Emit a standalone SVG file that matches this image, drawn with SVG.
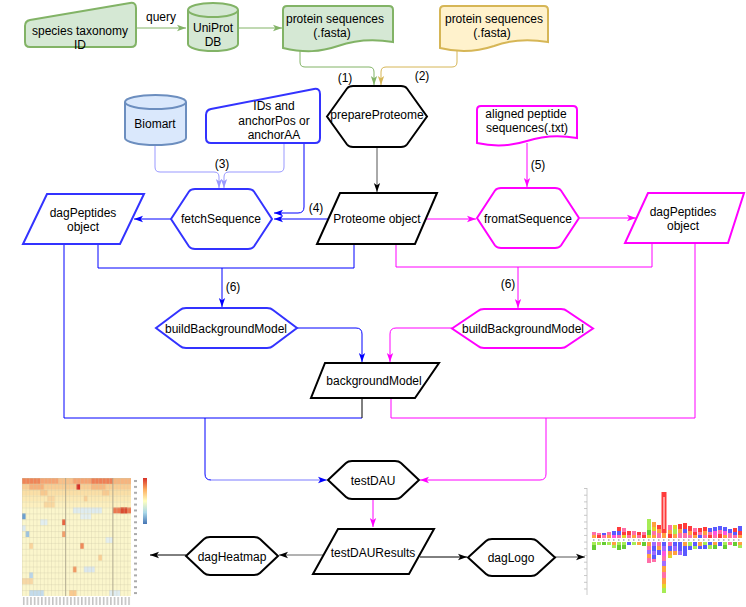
<svg xmlns="http://www.w3.org/2000/svg" width="746" height="607" viewBox="0 0 746 607">
<style>
.t{font-family:"Liberation Sans",Arial,sans-serif;font-size:12px;fill:#000;text-anchor:middle}
.blk{fill:#fff;stroke:#000;stroke-width:2}
.blu{fill:#fff;stroke:#3333ff;stroke-width:2}
.mag{fill:#fff;stroke:#ff00ff;stroke-width:2}
.grn{fill:#d5e8d4;stroke:#82b366;stroke-width:2}
.yel{fill:#fff2cc;stroke:#d6b656;stroke-width:2}
.lbl{fill:#dae8fc;stroke:#6c8ebf;stroke-width:2}
.c{fill:none;stroke-width:1}
.lP{fill:#ff6fa8}.lR{fill:#ff3b3b}.lO{fill:#ffa040}.lY{fill:#e3d42a}.lG{fill:#66cc33}.lL{fill:#a6ec55}.lB{fill:#5a5aff}.lV{fill:#a06cff}.lM{fill:#ff55dd}
</style>
<defs>
<marker id="mG" viewBox="0 0 10 10" refX="10" refY="5" markerWidth="9" markerHeight="9" markerUnits="userSpaceOnUse" orient="auto"><path d="M0,1.5 L10,5 L0,8.5 L2.5,5 Z" fill="#82b366"/></marker>
<marker id="mY" viewBox="0 0 10 10" refX="10" refY="5" markerWidth="9" markerHeight="9" markerUnits="userSpaceOnUse" orient="auto"><path d="M0,1.5 L10,5 L0,8.5 L2.5,5 Z" fill="#d6b656"/></marker>
<marker id="mB" viewBox="0 0 10 10" refX="10" refY="5" markerWidth="9" markerHeight="9" markerUnits="userSpaceOnUse" orient="auto"><path d="M0,1.5 L10,5 L0,8.5 L2.5,5 Z" fill="#0000ff"/></marker>
<marker id="mL" viewBox="0 0 10 10" refX="10" refY="5" markerWidth="9" markerHeight="9" markerUnits="userSpaceOnUse" orient="auto"><path d="M0,1.5 L10,5 L0,8.5 L2.5,5 Z" fill="#9999ff"/></marker>
<marker id="mM" viewBox="0 0 10 10" refX="10" refY="5" markerWidth="9" markerHeight="9" markerUnits="userSpaceOnUse" orient="auto"><path d="M0,1.5 L10,5 L0,8.5 L2.5,5 Z" fill="#ff00ff"/></marker>
<marker id="mK" viewBox="0 0 10 10" refX="10" refY="5" markerWidth="9" markerHeight="9" markerUnits="userSpaceOnUse" orient="auto"><path d="M0,1.5 L10,5 L0,8.5 L2.5,5 Z" fill="#000"/></marker>
<pattern id="hg" x="22" y="478" width="3.633" height="5.9" patternUnits="userSpaceOnUse"><path d="M0,0 V5.9 M0,0 H3.633" stroke="#cdc7a6" stroke-width="0.6" fill="none"/></pattern>
<pattern id="rl" x="133" y="478" width="6" height="5.9" patternUnits="userSpaceOnUse"><rect x="1" y="2" width="3" height="2" fill="#aaa"/></pattern>
<pattern id="cl" x="22" y="597" width="3.633" height="9" patternUnits="userSpaceOnUse"><rect x="1" y="0" width="1.4" height="8" fill="#bbb"/></pattern>
<pattern id="lt" x="584" y="488" width="3" height="6.7" patternUnits="userSpaceOnUse"><rect x="0" y="0" width="3" height="0.8" fill="#bbb"/></pattern>
<pattern id="lp" x="592" y="539" width="5" height="2" patternUnits="userSpaceOnUse"><rect x="1" y="0" width="1.5" height="2" fill="#bbb"/></pattern>
<linearGradient id="cb" x1="0" y1="0" x2="0" y2="1"><stop offset="0" stop-color="#d73027"/><stop offset="0.25" stop-color="#fdae61"/><stop offset="0.5" stop-color="#ffffbf"/><stop offset="0.75" stop-color="#abd9e9"/><stop offset="1" stop-color="#4575b4"/></linearGradient>
</defs>
<rect width="746" height="607" fill="#fff"/>

<g id="connectors">
<path class="c" stroke="#82b366" d="M136,28 L186,28" marker-end="url(#mG)"/>
<path class="c" stroke="#82b366" d="M238,28 L282,28" marker-end="url(#mG)"/>
<path class="c" stroke="#82b366" d="M300,50 L300,62 Q300,67 305,67 L369,67 Q374,67 374,72 L374,85" marker-end="url(#mG)"/>
<path class="c" stroke="#d6b656" d="M457,50 L457,62 Q457,67 452,67 L386,67 Q381,67 381,72 L381,85" marker-end="url(#mY)"/>
<path class="c" stroke="#555" d="M377,147 L377,192" marker-end="url(#mK)"/>
<path class="c" stroke="#9999ff" d="M155,145 L155,167 Q155,172 160,172 L214,172 Q219,172 219,177 L219,188" marker-end="url(#mL)"/>
<path class="c" stroke="#9999ff" d="M284,143 L284,167 Q284,172 279,172 L229,172 Q224,172 224,177 L224,188" marker-end="url(#mL)"/>
<path class="c" stroke="#0000ff" d="M304,143 L304,207 Q304,213 298,213 L274,213" marker-end="url(#mB)"/>
<path class="c" stroke="#0000ff" d="M328,219 L274,219" marker-end="url(#mB)"/>
<path class="c" stroke="#0000ff" d="M171,219 L134,219" marker-end="url(#mB)"/>
<path class="c" stroke="#ff00ff" d="M426,219 L476,219" marker-end="url(#mM)"/>
<path class="c" stroke="#ff00ff" d="M527,143 L527,187" marker-end="url(#mM)"/>
<path class="c" stroke="#ff00ff" d="M580,218 L636,218" marker-end="url(#mM)"/>
<path class="c" stroke="#0000ff" d="M98,244 L98,268 L354,268 L354,244"/>
<path class="c" stroke="#0000ff" d="M222,268 L222,307" marker-end="url(#mB)"/>
<path class="c" stroke="#ff00ff" d="M396,244 L396,267 L652,267 L652,243"/>
<path class="c" stroke="#ff00ff" d="M518,267 L518,308" marker-end="url(#mM)"/>
<path class="c" stroke="#0000ff" d="M297,328 L356,328 Q362,328 362,334 L362,362" marker-end="url(#mB)"/>
<path class="c" stroke="#ff00ff" d="M452,328 L396,328 Q390,328 390,334 L390,362" marker-end="url(#mM)"/>
<path class="c" stroke="#0000ff" d="M64,244 L64,418 L362,418"/>
<path class="c" stroke="#000" d="M362,398 L362,418"/>
<path class="c" stroke="#0000ff" d="M205,418 L205,474 Q205,480 211,480"/>
<path class="c" stroke="#7b7bff" d="M211,480 L327,480" marker-end="url(#mB)"/>
<path class="c" stroke="#ff00ff" d="M695,243 L695,418 L391,418 L391,398"/>
<path class="c" stroke="#ff00ff" d="M546,418 L546,474 Q546,480 540,480 L420,480" marker-end="url(#mM)"/>
<path class="c" stroke="#ff00ff" d="M373,499 L373,527" marker-end="url(#mM)"/>
<path class="c" stroke="#666" d="M323,555 L279,555" marker-end="url(#mK)"/>
<path class="c" stroke="#000" d="M186,555 L150,555" marker-end="url(#mK)"/>
<path class="c" stroke="#000" d="M420,557 L467,557" marker-end="url(#mK)"/>
<path class="c" stroke="#555" d="M555,557 L585,557" marker-end="url(#mK)"/>
<text class="t" x="161" y="21">query</text>
<text class="t" x="345" y="82">(1)</text>
<text class="t" x="422" y="80">(2)</text>
<text class="t" x="222" y="168">(3)</text>
<text class="t" x="316" y="212">(4)</text>
<text class="t" x="538" y="169">(5)</text>
<text class="t" x="233" y="291">(6)</text>
<text class="t" x="508" y="288">(6)</text>
</g>

<g id="species">
<path class="grn" d="M25,26 Q25,21 30,20 L130,3 Q136,2 136,8 L136,42 Q136,47 131,47 L30,47 Q25,47 25,42 Z"/>
<text class="t" x="80" y="35">species taxonomy</text>
<text class="t" x="80" y="49">ID</text>
</g>
<g id="uniprot">
<path class="grn" d="M188,10 A25,7 0 0 1 238,10 L238,44 A25,7 0 0 1 188,44 Z"/>
<path fill="none" stroke="#82b366" stroke-width="2" d="M188,10 A25,7 0 0 0 238,10"/>
<text class="t" x="213" y="32">UniProt</text>
<text class="t" x="213" y="46">DB</text>
</g>
<g id="fasta1">
<path class="grn" d="M283,10 Q283,6 287,6 L389,6 Q393,6 393,10 L393,42 C375,39 355,40 338,46 C320,52 305,53 283,48 Z"/>
<text class="t" x="335" y="23">protein sequences</text>
<text class="t" x="332" y="37">(.fasta)</text>
</g>
<g id="fasta2">
<path class="yel" d="M440,10 Q440,6 444,6 L544,6 Q548,6 548,10 L548,42 C530,39 510,40 494,46 C476,52 460,53 440,48 Z"/>
<text class="t" x="494" y="23">protein sequences</text>
<text class="t" x="492" y="37">(.fasta)</text>
</g>
<g id="prepareProteome">
<path class="blk" d="M327,116.5 L347,88.5 Q349,86 353,86 L401,86 Q405,86 407,88.5 L427,116.5 L407,144.5 Q405,147 401,147 L353,147 Q349,147 347,144.5 Z"/>
<text class="t" x="377" y="119">prepareProteome</text>
</g>
<g id="biomart">
<path class="lbl" d="M125,102 A30.5,7 0 0 1 186,102 L186,138 A30.5,7 0 0 1 125,138 Z"/>
<path fill="none" stroke="#6c8ebf" stroke-width="2" d="M125,102 A30.5,7 0 0 0 186,102"/>
<text class="t" x="155" y="128">Biomart</text>
</g>
<g id="ids">
<path class="blu" d="M206,115 Q206,110 211,109 L314,89 Q320,88 320,94 L320,138 Q320,143 315,143 L211,143 Q206,143 206,138 Z"/>
<text class="t" x="274" y="110">IDs and</text>
<text class="t" x="274" y="125">anchorPos or</text>
<text class="t" x="274" y="139">anchorAA</text>
</g>
<g id="aligned">
<path class="mag" d="M477,110 Q477,106 481,106 L573,106 Q577,106 577,110 L577,138 C560,135 542,136 527,141 C511,146 495,147 477,143 Z"/>
<text class="t" x="526" y="118">aligned peptide</text>
<text class="t" x="527" y="132">sequences(.txt)</text>
</g>
<g id="dagPeptidesBlue">
<path class="blu" d="M47,194 L144,194 L120,244 L23,244 Z"/>
<text class="t" x="83" y="217">dagPeptides</text>
<text class="t" x="83" y="231">object</text>
</g>
<g id="fetchSequence">
<path class="blu" d="M171,219 L189,191.5 Q191,189 195,189 L248,189 Q252,189 254,191.5 L272,219 L254,246.5 Q252,249 248,249 L195,249 Q191,249 189,246.5 Z"/>
<text class="t" x="221" y="223">fetchSequence</text>
</g>
<g id="proteome">
<path class="blk" d="M340,193 L437,193 L415,244 L317,244 Z"/>
<text class="t" x="377" y="223">Proteome object</text>
</g>
<g id="fromatSequence">
<path class="mag" d="M477,218 L495,190.5 Q497,188 501,188 L555,188 Q559,188 561,190.5 L579,218 L561,245.5 Q559,248 555,248 L501,248 Q497,248 495,245.5 Z"/>
<text class="t" x="528" y="223">fromatSequence</text>
</g>
<g id="dagPeptidesMag">
<path class="mag" d="M648,193 L744,193 L728,243 L625,243 Z"/>
<text class="t" x="683" y="216">dagPeptides</text>
<text class="t" x="683" y="230">object</text>
</g>
<g id="bbmBlue">
<path class="blu" stroke="#0000ff" d="M156,328 L180,310 Q182,308 186,308 L267,308 Q271,308 273,310 L297,328 L273,346 Q271,348 267,348 L186,348 Q182,348 180,346 Z"/>
<text class="t" x="226" y="333">buildBackgroundModel</text>
</g>
<g id="bbmMag">
<path class="mag" d="M452,328.5 L478,311 Q480,309 484,309 L561,309 Q565,309 567,311 L593,328.5 L567,346 Q565,348 561,348 L484,348 Q480,348 478,346 Z"/>
<text class="t" x="523" y="333">buildBackgroundModel</text>
</g>
<g id="backgroundModel">
<path class="blk" d="M325,363 L439,363 L415,398 L311,398 Z"/>
<text class="t" x="374" y="385">backgroundModel</text>
</g>
<g id="testDAU">
<path class="blk" d="M328,480 L346,463 Q348,461 352,461 L395,461 Q399,461 401,463 L419,480 L401,497 Q399,499 395,499 L352,499 Q348,499 346,497 Z"/>
<text class="t" x="373" y="485">testDAU</text>
</g>
<g id="testDAUResults">
<path class="blk" d="M338,529 L434,529 L409,574 L313,574 Z"/>
<text class="t" x="373" y="557">testDAUResults</text>
</g>
<g id="dagHeatmap">
<path class="blk" d="M186,556 L204,539 Q206,537 210,537 L254,537 Q258,537 260,539 L278,556 L260,573 Q258,575 254,575 L210,575 Q206,575 204,573 Z"/>
<text class="t" x="232" y="561">dagHeatmap</text>
</g>
<g id="dagLogo">
<path class="blk" d="M468,557.5 L486,541 Q488,539 492,539 L531,539 Q535,539 537,541 L555,557.5 L537,574 Q535,576 531,576 L492,576 Q488,576 486,574 Z"/>
<text class="t" x="511" y="562">dagLogo</text>
</g>

<g id="heatmap">
<rect x="22" y="478" width="109" height="118" fill="#fbf6cc"/>
<rect x="22" y="478" width="109" height="5.9" fill="#f5a372"/>
<rect x="22" y="478" width="18.2" height="5.9" fill="#ef8457"/>
<rect x="91" y="478" width="22" height="5.9" fill="#ee7f55"/>
<rect x="58.3" y="478" width="14.5" height="5.9" fill="#f8c08a"/>
<rect x="112.8" y="478" width="18.2" height="5.9" fill="#f6b47e"/>
<rect x="22" y="483.9" width="109" height="5.9" fill="#f9cd94"/>
<rect x="29.27" y="483.9" width="14.5" height="5.9" fill="#f6b07a"/>
<rect x="76.5" y="483.9" width="3.63" height="5.9" fill="#d73027"/>
<rect x="91" y="483.9" width="14.5" height="5.9" fill="#f7b880"/>
<rect x="22" y="489.8" width="109" height="5.9" fill="#fbdfa6"/>
<rect x="40.17" y="489.8" width="7.3" height="5.9" fill="#f8c88e"/>
<rect x="101.9" y="489.8" width="7.3" height="5.9" fill="#f9ca90"/>
<rect x="22" y="495.7" width="109" height="5.9" fill="#fce9b4"/>
<rect x="47.4" y="495.7" width="7.3" height="5.9" fill="#fad6a0"/>
<rect x="83.8" y="495.7" width="3.63" height="5.9" fill="#f9cf96"/>
<rect x="22" y="501.6" width="109" height="5.9" fill="#fdf0bf"/>
<rect x="43.8" y="501.6" width="10.9" height="5.9" fill="#fad8a0"/>
<rect x="72.9" y="507.5" width="29" height="5.9" fill="#dfecef"/>
<rect x="112.83" y="507.5" width="18.17" height="5.9" fill="#ec7850"/>
<rect x="120.1" y="507.5" width="7.27" height="5.9" fill="#da4b30"/>
<rect x="22" y="513.4" width="3.63" height="5.9" fill="#6b9fd0"/>
<rect x="80.13" y="513.4" width="10.9" height="5.9" fill="#e4eff0"/>
<rect x="61.97" y="519.3" width="3.63" height="5.9" fill="#e96440"/>
<rect x="40.17" y="519.3" width="7.3" height="5.9" fill="#e2eef0"/>
<rect x="22" y="525.2" width="3.63" height="5.9" fill="#dce9ef"/>
<rect x="25.63" y="531.1" width="3.63" height="5.9" fill="#9cc3e0"/>
<rect x="61.97" y="531.1" width="3.63" height="5.9" fill="#f3a06c"/>
<rect x="105.6" y="537" width="7.3" height="5.9" fill="#e4eff0"/>
<rect x="80.13" y="542.9" width="3.63" height="5.9" fill="#ef8a5a"/>
<rect x="29.27" y="542.9" width="3.63" height="5.9" fill="#fad49c"/>
<rect x="98.3" y="554.7" width="3.63" height="5.9" fill="#f9cf96"/>
<rect x="72.87" y="566.5" width="3.63" height="5.9" fill="#f29a64"/>
<rect x="83.8" y="566.5" width="10.9" height="5.9" fill="#dbe8ef"/>
<rect x="29.27" y="572.4" width="3.63" height="5.9" fill="#b9d5ea"/>
<rect x="22" y="578.3" width="10.9" height="5.9" fill="#f8d8a6"/>
<rect x="29.27" y="590.1" width="14.5" height="5.9" fill="#c3dbec"/>
<rect x="69.2" y="590.1" width="7.3" height="5.9" fill="#f9c98e"/>
<rect x="109.2" y="590.1" width="10.9" height="5.9" fill="#dfecf1"/>
<rect x="22" y="478" width="109" height="118" fill="url(#hg)"/>
<path d="M65.6,478 V596 M112.8,478 V596" stroke="#a8a28a" stroke-width="0.8"/>
<rect x="133" y="478" width="6" height="118" fill="url(#rl)"/>
<rect x="22" y="597" width="109" height="9" fill="url(#cl)"/>
<rect x="143" y="478" width="4" height="46" fill="url(#cb)"/>
</g>

<g id="logo">
<line x1="587" y1="488" x2="587" y2="595" stroke="#ccc" stroke-width="1"/>
<rect x="584" y="488" width="3" height="107" fill="url(#lt)"/>
<rect x="590" y="539" width="152" height="2" fill="url(#lp)"/>
<rect class="lP" x="592" y="532" width="4" height="3"/><rect class="lO" x="592" y="535" width="4" height="3"/><rect class="lL" x="592" y="542" width="4" height="3"/><rect class="lG" x="592" y="545" width="4" height="5"/>
<rect class="lP" x="597" y="533" width="4" height="2"/><rect class="lR" x="597" y="535" width="4" height="3"/><rect class="lL" x="597" y="542" width="4" height="3"/>
<rect class="lB" x="602" y="533" width="4" height="2"/><rect class="lP" x="602" y="535" width="4" height="3"/><rect class="lG" x="602" y="542" width="4" height="3"/>
<rect class="lP" x="607" y="532" width="4" height="3"/><rect class="lO" x="607" y="535" width="4" height="3"/><rect class="lL" x="607" y="542" width="4" height="3"/>
<rect class="lB" x="612" y="531" width="4" height="4"/><rect class="lM" x="612" y="535" width="4" height="3"/><rect class="lO" x="612" y="542" width="4" height="3"/><rect class="lL" x="612" y="545" width="4" height="3"/>
<rect class="lR" x="617" y="527" width="4" height="4"/><rect class="lB" x="617" y="531" width="4" height="4"/><rect class="lP" x="617" y="535" width="4" height="3"/><rect class="lL" x="617" y="542" width="4" height="3"/><rect class="lG" x="617" y="545" width="4" height="5"/>
<rect class="lP" x="622" y="528" width="4" height="4"/><rect class="lR" x="622" y="532" width="4" height="3"/><rect class="lY" x="622" y="535" width="4" height="3"/><rect class="lL" x="622" y="542" width="4" height="3"/><rect class="lG" x="622" y="545" width="4" height="4"/>
<rect class="lR" x="627" y="531" width="4" height="4"/><rect class="lP" x="627" y="535" width="4" height="3"/><rect class="lB" x="627" y="542" width="4" height="3"/>
<rect class="lP" x="632" y="531" width="4" height="4"/><rect class="lO" x="632" y="535" width="4" height="3"/><rect class="lL" x="632" y="542" width="4" height="3"/>
<rect class="lR" x="637" y="532" width="4" height="3"/><rect class="lP" x="637" y="535" width="4" height="3"/><rect class="lO" x="637" y="542" width="4" height="3"/>
<rect class="lP" x="642" y="532" width="4" height="3"/><rect class="lR" x="642" y="535" width="4" height="3"/><rect class="lG" x="642" y="542" width="4" height="4"/>
<rect class="lL" x="647" y="519" width="4" height="11"/><rect class="lG" x="647" y="530" width="4" height="5"/><rect class="lY" x="647" y="535" width="4" height="3"/><rect class="lO" x="647" y="542" width="4" height="4"/><rect class="lP" x="647" y="546" width="4" height="4"/><rect class="lV" x="647" y="550" width="4" height="4"/><rect class="lO" x="647" y="554" width="4" height="4"/><rect class="lP" x="647" y="558" width="4" height="5"/>
<rect class="lO" x="652" y="522" width="4" height="5"/><rect class="lY" x="652" y="527" width="4" height="4"/><rect class="lP" x="652" y="531" width="4" height="4"/><rect class="lO" x="652" y="535" width="4" height="3"/><rect class="lV" x="652" y="542" width="4" height="4"/><rect class="lB" x="652" y="546" width="4" height="5"/><rect class="lV" x="652" y="551" width="4" height="4"/><rect class="lB" x="652" y="555" width="4" height="4"/><rect class="lP" x="652" y="559" width="4" height="3"/>
<rect class="lR" x="657" y="525" width="4" height="4"/><rect class="lO" x="657" y="529" width="4" height="4"/><rect class="lP" x="657" y="533" width="4" height="5"/><rect class="lP" x="657" y="542" width="4" height="4"/><rect class="lO" x="657" y="546" width="4" height="4"/><rect class="lB" x="657" y="550" width="4" height="5"/>
<rect class="lR" x="661.5" y="492" width="5" height="41"/><rect fill="#fff" x="663.5" y="497" width="1" height="32"/><rect class="lO" x="662" y="533" width="4" height="5"/>
<rect class="lB" x="662" y="542" width="4" height="4"/><rect class="lV" x="662" y="546" width="4" height="5"/><rect class="lM" x="662" y="551" width="4" height="5"/><rect class="lP" x="662" y="556" width="4" height="5"/><rect class="lV" x="662" y="561" width="4" height="5"/><rect class="lO" x="662" y="566" width="4" height="6"/><rect class="lP" x="662" y="572" width="4" height="6"/><rect class="lO" x="662" y="578" width="4" height="6"/><rect class="lY" x="662" y="584" width="4" height="4"/><rect class="lL" x="662" y="588" width="4" height="5"/>
<rect class="lP" x="668" y="525" width="4" height="5"/><rect class="lO" x="668" y="530" width="4" height="4"/><rect class="lR" x="668" y="534" width="4" height="4"/><rect class="lP" x="668" y="542" width="4" height="4"/><rect class="lB" x="668" y="546" width="4" height="5"/><rect class="lO" x="668" y="551" width="4" height="4"/><rect class="lY" x="668" y="555" width="4" height="3"/>
<rect class="lY" x="673" y="525" width="4" height="4"/><rect class="lL" x="673" y="529" width="4" height="5"/><rect class="lO" x="673" y="534" width="4" height="4"/><rect class="lB" x="673" y="542" width="4" height="4"/><rect class="lV" x="673" y="546" width="4" height="5"/><rect class="lO" x="673" y="551" width="4" height="4"/>
<rect class="lR" x="678" y="524" width="4" height="5"/><rect class="lO" x="678" y="529" width="4" height="4"/><rect class="lP" x="678" y="533" width="4" height="5"/><rect class="lB" x="678" y="542" width="4" height="4"/><rect class="lB" x="678" y="546" width="4" height="5"/><rect class="lV" x="678" y="551" width="4" height="4"/>
<rect class="lR" x="683" y="523" width="4" height="6"/><rect class="lB" x="683" y="529" width="4" height="4"/><rect class="lP" x="683" y="533" width="4" height="5"/><rect class="lO" x="683" y="542" width="4" height="4"/><rect class="lB" x="683" y="546" width="4" height="6"/><rect class="lB" x="683" y="552" width="4" height="4"/>
<rect class="lR" x="688" y="526" width="4" height="5"/><rect class="lO" x="688" y="531" width="4" height="4"/><rect class="lP" x="688" y="535" width="4" height="3"/><rect class="lL" x="688" y="542" width="4" height="4"/><rect class="lB" x="688" y="546" width="4" height="4"/>
<rect class="lP" x="693" y="528" width="4" height="4"/><rect class="lR" x="693" y="532" width="4" height="3"/><rect class="lO" x="693" y="535" width="4" height="3"/><rect class="lB" x="693" y="542" width="4" height="4"/><rect class="lL" x="693" y="546" width="4" height="3"/>
<rect class="lR" x="698" y="528" width="4" height="4"/><rect class="lP" x="698" y="532" width="4" height="3"/><rect class="lB" x="698" y="535" width="4" height="3"/><rect class="lO" x="698" y="542" width="4" height="4"/><rect class="lB" x="698" y="546" width="4" height="3"/>
<rect class="lR" x="703" y="527" width="4" height="4"/><rect class="lO" x="703" y="531" width="4" height="4"/><rect class="lP" x="703" y="535" width="4" height="3"/><rect class="lL" x="703" y="542" width="4" height="3"/><rect class="lB" x="703" y="545" width="4" height="4"/>
<rect class="lB" x="708" y="528" width="4" height="4"/><rect class="lP" x="708" y="532" width="4" height="3"/><rect class="lR" x="708" y="535" width="4" height="3"/><rect class="lB" x="708" y="542" width="4" height="3"/><rect class="lL" x="708" y="545" width="4" height="4"/>
<rect class="lB" x="713" y="527" width="4" height="4"/><rect class="lM" x="713" y="531" width="4" height="4"/><rect class="lP" x="713" y="535" width="4" height="3"/><rect class="lO" x="713" y="542" width="4" height="3"/><rect class="lG" x="713" y="545" width="4" height="4"/>
<rect class="lB" x="718" y="526" width="4" height="4"/><rect class="lP" x="718" y="530" width="4" height="4"/><rect class="lR" x="718" y="534" width="4" height="4"/><rect class="lB" x="718" y="542" width="4" height="4"/>
<rect class="lB" x="723" y="527" width="4" height="4"/><rect class="lM" x="723" y="531" width="4" height="4"/><rect class="lO" x="723" y="535" width="4" height="3"/><rect class="lL" x="723" y="542" width="4" height="3"/><rect class="lG" x="723" y="545" width="4" height="4"/>
<rect class="lB" x="728" y="529" width="4" height="4"/><rect class="lP" x="728" y="533" width="4" height="5"/><rect class="lP" x="728" y="542" width="4" height="3"/>
<rect class="lR" x="733" y="528" width="4" height="4"/><rect class="lB" x="733" y="532" width="4" height="3"/><rect class="lP" x="733" y="535" width="4" height="3"/><rect class="lG" x="733" y="542" width="4" height="4"/>
<rect class="lB" x="738" y="526" width="4" height="5"/><rect class="lR" x="738" y="531" width="4" height="4"/><rect class="lO" x="738" y="535" width="4" height="3"/><rect class="lO" x="738" y="542" width="4" height="3"/><rect class="lL" x="738" y="545" width="4" height="3"/>
</g>
</svg>
